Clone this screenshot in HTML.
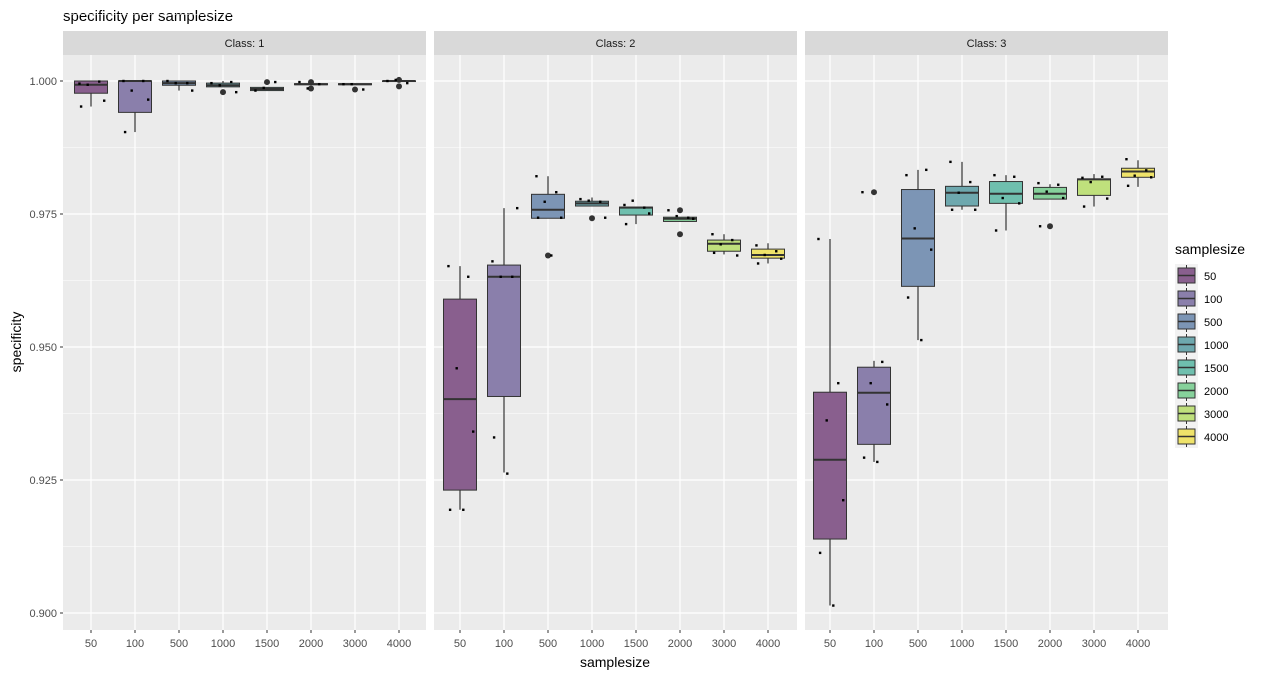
<!DOCTYPE html>
<html><head><meta charset="utf-8"><style>
body{margin:0;background:#fff;font-family:"Liberation Sans",Arial,sans-serif}
svg text{font-family:"Liberation Sans",Arial,sans-serif}
</style></head><body>
<svg id="chart" width="1280" height="677" xmlns="http://www.w3.org/2000/svg">
<text x="63" y="21" font-size="15" fill="#000">specificity per samplesize</text>
<text x="615" y="667" font-size="14" text-anchor="middle" fill="#000">samplesize</text>
<text transform="translate(21,342) rotate(-90)" font-size="14" text-anchor="middle" fill="#000">specificity</text>
<g id="panels"></g>
<g id="legend"></g>
</svg>
<script>
const categories = ["50","100","500","1000","1500","2000","3000","4000"];
const panelNames = ["Class: 1","Class: 2","Class: 3"];
const yTicks = [0.900,0.925,0.950,0.975,1.000];
const yTickLabels = ["0.900","0.925","0.950","0.975","1.000"];
// per panel: [lowWhisker, q1, median, q3, highWhisker]
const class1Stats = [[0.9952,0.9977,0.9993,1.0,1.0],[0.9904,0.9941,1.0,1.0,1.0],[0.9982,0.9992,0.9996,1.0,1.0],[0.9989,0.9989,0.9992,0.9996,1.0],[0.9982,0.9982,0.9985,0.9988,0.9988],[0.9993,0.9993,0.9994,0.9995,0.9995],[0.9993,0.9993,0.9994,0.9995,0.9995],[0.9999,0.9999,1.0,1.0,1.0]];
const class2Stats = [[0.9194,0.9231,0.9402,0.959,0.9652],[0.9264,0.9407,0.9632,0.9654,0.9761],[0.9742,0.9742,0.9758,0.9787,0.9821],[0.9765,0.9765,0.977,0.9774,0.9781],[0.9731,0.9748,0.9762,0.9763,0.9763],[0.9736,0.9736,0.9741,0.9744,0.9744],[0.9674,0.968,0.9694,0.9701,0.9712],[0.9657,0.9667,0.9673,0.9684,0.9695]];
const class3Stats = [[0.9014,0.9139,0.9288,0.9415,0.9703],[0.9284,0.9317,0.9414,0.9462,0.9474],[0.9513,0.9614,0.9704,0.9796,0.9833],[0.9758,0.9765,0.979,0.9802,0.9848],[0.9719,0.977,0.9788,0.9811,0.9823],[0.9778,0.9778,0.9788,0.98,0.9806],[0.9764,0.9785,0.9815,0.9816,0.9825],[0.9801,0.9819,0.983,0.9836,0.9851]];
const class1Outliers = [[],[],[],[0.9979],[0.9998],[0.9998,0.9986],[0.9984],[1.0002,0.999]];
const class2Outliers = [[],[],[0.9672],[0.9742],[],[0.9757,0.9712],[],[]];
const class3Outliers = [[],[0.9791],[],[],[],[0.9727],[],[]];
const class1Points = [[0.9995,0.9999,0.9993,0.9963,0.9952],[1.0,1.0,0.9982,0.9965,0.9904],[1.0,0.9996,0.9996,0.9982],[0.9996,0.9998,0.9992,0.9979],[0.9982,0.9998,0.9987],[0.9998,0.9994,0.9986],[0.9994,0.9984,0.9994],[1.0,0.9996,1.0002]];
const class2Points = [[0.9652,0.9632,0.9460,0.9341,0.9194,0.9194],[0.9661,0.9632,0.9632,0.9761,0.9330,0.9262],[0.9821,0.9791,0.9773,0.9743,0.9743,0.9672],[0.9778,0.9773,0.9775,0.9743],[0.9767,0.9762,0.9775,0.9751,0.9731],[0.9757,0.9743,0.9746,0.9741],[0.9712,0.9701,0.9693,0.9672,0.9677],[0.9691,0.9680,0.9673,0.9666,0.9657]];
const class3Points = [[0.9703,0.9432,0.9362,0.9212,0.9113,0.9014],[0.9791,0.9472,0.9432,0.9392,0.9292,0.9284],[0.9823,0.9833,0.9723,0.9683,0.9593,0.9513],[0.9848,0.9810,0.9790,0.9758,0.9758],[0.9823,0.9820,0.9780,0.9770,0.9719],[0.9808,0.9805,0.9792,0.9780,0.9727],[0.9818,0.9820,0.9810,0.9779,0.9764],[0.9853,0.9832,0.9822,0.9819,0.9803]];
const legendLabels = ["50","100","500","1000","1500","2000","3000","4000"];

const fills=["#895f8e","#8a7fab","#7c95b5","#6ea8ae","#6fbfae","#86d19b","#bfe07c","#efe36a"];
const stats=[class1Stats,class2Stats,class3Stats], outs=[class1Outliers,class2Outliers,class3Outliers], pts=[class1Points,class2Points,class3Points];
const jit=[-0.35,0.25,-0.1,0.4,-0.3,0.1];
const NS="http://www.w3.org/2000/svg";
function mk(t,a,p){const e=document.createElementNS(NS,t);for(const k in a)e.setAttribute(k,a[k]);p.appendChild(e);return e;}
const plotTop=55,plotBot=630;
function yS(v){return 81+(1-v)/0.025*133;}
const panelX=[63,434,805],panelW=363,firstCat=[91,460,830];
function xS(p,i){return firstCat[p]+i*44;}
const G=document.getElementById('panels');
for(let p=0;p<3;p++){
  const g=mk('g',{},G);
  
  
  mk('rect',{x:panelX[p],y:plotTop,width:panelW,height:plotBot-plotTop,fill:'#ebebeb'},g);
  const s=mk('rect',{x:panelX[p],y:31,width:panelW,height:24,fill:'#d9d9d9'},g);
  
  
  const st=mk('text',{x:panelX[p]+panelW/2,y:47,'font-size':11,'text-anchor':'middle',fill:'#1a1a1a'},g);st.textContent=panelNames[p];
  for(let k=0;k<yTicks.length-1;k++){const m=(yTicks[k]+yTicks[k+1])/2;mk('line',{x1:panelX[p],x2:panelX[p]+panelW,y1:yS(m),y2:yS(m),stroke:'#fff','stroke-width':0.6},g);}
  mk('line',{x1:panelX[p],x2:panelX[p]+panelW,y1:yS(1.0125),y2:yS(1.0125),stroke:'#fff','stroke-width':0.6},g);
  yTicks.forEach(t=>mk('line',{x1:panelX[p],x2:panelX[p]+panelW,y1:yS(t),y2:yS(t),stroke:'#fff','stroke-width':1.2},g));
  categories.forEach((c,i)=>{
    mk('line',{x1:xS(p,i),x2:xS(p,i),y1:plotTop,y2:plotBot,stroke:'#fff','stroke-width':1.2},g);
    const tl=mk('text',{x:xS(p,i),y:647,'font-size':11,'text-anchor':'middle',fill:'#4d4d4d'},g);tl.textContent=c;
    
    
    mk('line',{x1:xS(p,i),x2:xS(p,i),y1:plotBot,y2:plotBot+3,stroke:'#333'},g);
  });
  stats[p].forEach((d,i)=>{
    const cx=xS(p,i),bw=33;
    const b=mk('g',{},g);
    
    
    mk('line',{x1:cx,x2:cx,y1:yS(d[4]),y2:yS(d[0]),stroke:'#222','stroke-width':1.1},b);
    mk('rect',{x:cx-bw/2,y:yS(d[3]),width:bw,height:Math.max(0.5,yS(d[1])-yS(d[3])),fill:fills[i],stroke:'#333','stroke-width':1},b);
    mk('line',{x1:cx-bw/2,x2:cx+bw/2,y1:yS(d[2]),y2:yS(d[2]),stroke:'#333','stroke-width':2},b);
    outs[p][i].forEach(o=>mk('circle',{cx:cx,cy:yS(o),r:3,fill:'#333'},b));
    pts[p][i].forEach((v,k)=>mk('rect',{x:cx+jit[k%jit.length]*33-1.2,y:yS(v)-1.2,width:2.4,height:2.4,fill:'#000'},b));
  });
}
yTicks.forEach((t,k)=>{
  const tl=mk('text',{x:57,y:yS(t)+4,'font-size':11,'text-anchor':'end',fill:'#4d4d4d'},G);tl.textContent=yTickLabels[k];
  
  
  mk('line',{x1:60,x2:63,y1:yS(t),y2:yS(t),stroke:'#333'},G);
});
const LG=document.getElementById('legend');
const lt=mk('text',{x:1175,y:254,'font-size':14,fill:'#000'},LG);lt.textContent='samplesize';
legendLabels.forEach((lab,i)=>{
  const yy=264+i*23;
  const e=mk('g',{},LG);
  
  
  mk('rect',{x:1175,y:yy,width:23,height:23,fill:'#f2f2f2'},e);
  mk('line',{x1:1186.5,x2:1186.5,y1:yy+1,y2:yy+22,stroke:'#333'},e);
  mk('rect',{x:1178,y:yy+4,width:17,height:15,fill:fills[i],stroke:'#333'},e);
  mk('line',{x1:1178,x2:1195,y1:yy+11.5,y2:yy+11.5,stroke:'#333','stroke-width':1.5},e);
  const t=mk('text',{x:1204,y:yy+16,'font-size':11,fill:'#000'},e);t.textContent=lab;
});
</script>
</body></html>
